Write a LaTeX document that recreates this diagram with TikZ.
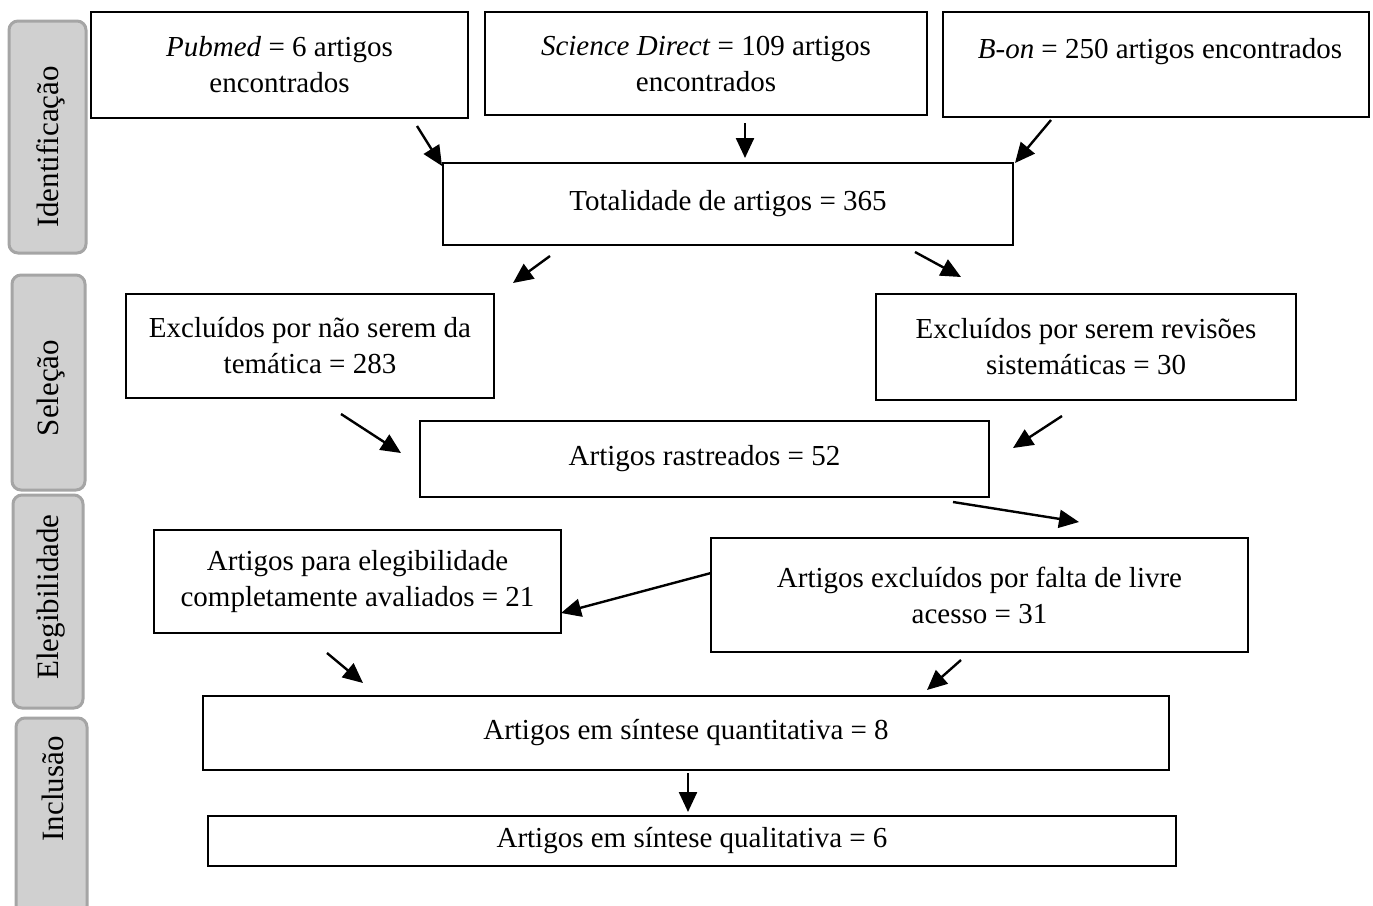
\documentclass[tikz,border=0pt]{standalone}
\usepackage{fontspec}
\setmainfont{Liberation Serif}
\usetikzlibrary{arrows.meta}
\definecolor{lblfill}{RGB}{208,208,208}
\definecolor{lbldraw}{RGB}{165,165,165}
\begin{document}
\begin{tikzpicture}[x=1pt,y=-1pt,
  box/.style={draw=black,line width=1.8pt,inner sep=0pt,align=center,font=\fontsize{29}{36}\selectfont},
  phase/.style={draw=lbldraw,fill=lblfill,line width=3pt,rounded corners=9pt,inner sep=0pt},
  phasetxt/.style={rotate=90,font=\fontsize{31}{36}\selectfont,inner sep=0pt},
  arr/.style={line width=2.4pt,-{Triangle[length=20pt,width=18pt]}}]
\useasboundingbox (0,0) rectangle (1373,905);

% phase labels
\node[phase,minimum width=77pt,minimum height=232pt] (idb) at (47.5,137) {};
\node[phasetxt] (idt) at (51,147) {Identificação};
\node[phase,minimum width=73pt,minimum height=215pt] (selb) at (48.5,382.5) {};
\node[phasetxt] (selt) at (51,388) {Seleção};
\node[phase,minimum width=70pt,minimum height=213pt] (eleb) at (48,601.5) {};
\node[phasetxt] (elet) at (51,597) {Elegibilidade};
\node[phase,minimum width=71pt,minimum height=197pt] (incb) at (51.5,816.5) {};
\node[phasetxt] (inct) at (53,789) {Inclusão};

% boxes
\node[box,minimum width=377pt,minimum height=106pt] (pub) at (279.5,65) {\textit{Pubmed} = 6 artigos\\encontrados};
\node[box,minimum width=442pt,minimum height=103pt] (sd) at (706,63.5) {\textit{Science Direct} = 109 artigos\\encontrados};
\node[box,minimum width=426pt,minimum height=105pt] (bon) at (1156,64.5) {};
\node[box,draw=none,anchor=center] (bont) at (1160,52) {\textit{B-on} = 250 artigos encontrados};
\node[box,minimum width=570pt,minimum height=82pt] (tot) at (728,204) {Totalidade de artigos = 365};
\node[box,minimum width=368pt,minimum height=104pt] (ex1) at (310,346) {Excluídos por não serem da\\temática = 283};
\node[box,minimum width=420pt,minimum height=106pt] (ex2) at (1086,347) {Excluídos por serem revisões\\sistemáticas = 30};
\node[box,minimum width=569pt,minimum height=76pt] (ras) at (704.5,459) {Artigos rastreados = 52};
\node[box,minimum width=407pt,minimum height=103pt] (ele) at (357.5,581.5) {Artigos para elegibilidade\\completamente avaliados = 21};
\node[box,minimum width=537pt,minimum height=114pt] (fal) at (979.5,595) {Artigos excluídos por falta de livre\\acesso = 31};
\node[box,minimum width=966pt,minimum height=74pt] (qua) at (686,733) {Artigos em síntese quantitativa = 8};
\node[box,minimum width=968pt,minimum height=50pt] (qual) at (692,841) {Artigos em síntese qualitativa = 6};

% arrow end points
\coordinate (a1s) at (417,126); \coordinate (a1e) at (442,166);
\coordinate (a2s) at (745,123); \coordinate (a2e) at (745,158);
\coordinate (a3s) at (1051,120); \coordinate (a3e) at (1015,163);
\coordinate (a4s) at (550,256); \coordinate (a4e) at (513,283);
\coordinate (a5s) at (915,252); \coordinate (a5e) at (961,277);
\coordinate (a6s) at (341,414); \coordinate (a6e) at (401,453);
\coordinate (a7s) at (1062,416); \coordinate (a7e) at (1013,448);
\coordinate (a8s) at (953,502); \coordinate (a8e) at (1079,522);
\coordinate (a9s) at (711,573); \coordinate (a9e) at (561,613);
\coordinate (a10s) at (327,653); \coordinate (a10e) at (363,683);
\coordinate (a11s) at (961,660); \coordinate (a11e) at (927,690);
\coordinate (a12s) at (688,773); \coordinate (a12e) at (688,812);

\foreach \i in {1,...,12} {\draw[arr] (a\i s) -- (a\i e);}
\end{tikzpicture}
\end{document}
